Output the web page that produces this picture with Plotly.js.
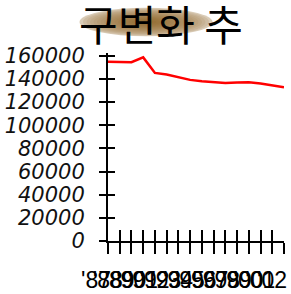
<!DOCTYPE html>
<html><head><meta charset="utf-8">
<script src="https://cdn.plot.ly/plotly-3.0.1.min.js"></script>
<style>html,body{margin:0;padding:0;background:#fff;}#chart{width:291px;height:294px;}</style>
</head><body><div id="chart"></div>
<script>
const years = ["'87","'88","'89","'90","'91","'92","'93","'94","'95","'96","'97","'98","'99","'00","'01","'02"];
const values = [154800,154700,154300,158500,145100,143700,141500,139100,137900,137200,136500,136800,137000,136000,134300,132700];
const yTicks = [0,20000,40000,60000,80000,100000,120000,140000,160000];
const titleText = "구변화 추";

const W = 291, H = 294, L = 108, R = 7, T = 53, B = 53;
const pw = W - L - R, ph = H - T - B;
function px2paperX(p){return (p - L)/pw;}
function px2paperY(p){return (H - B - p)/ph;}

// radial brown blob behind title
const shapes = [];
const N = 20, cx = 146, cy = 22, rx = 70, ry = 15;
for (let i = 0; i < N; i++) {
  const f = 1 - i / N;
  const t = Math.pow(i / (N - 1), 0.35);
  const r = Math.round(255 + (148 - 255) * t);
  const g = Math.round(255 + (108 - 255) * t);
  const b = Math.round(255 + (50 - 255) * t);
  shapes.push({type:'circle', xref:'paper', yref:'paper', layer:'above',
    x0: px2paperX(cx - rx*f), x1: px2paperX(cx + rx*f),
    y0: px2paperY(cy + ry*f), y1: px2paperY(cy - ry*f),
    fillcolor:`rgb(${r},${g},${b})`, line:{width:0}});
}

const yMax = 162300;
const traces = [
  {x: years, y: values, type:'scatter', mode:'lines', line:{color:'#ff0000', width:2.5}, hoverinfo:'skip', cliponaxis:false},
  {x: years, y: values, xaxis:'x2', yaxis:'y2', type:'scatter', mode:'lines', line:{color:'rgba(0,0,0,0)', width:0}, hoverinfo:'skip', showlegend:false}
];
const layout = {
  width: W, height: H, showlegend:false,
  margin:{l:L, r:R, t:T, b:B, pad:0},
  paper_bgcolor:'#fff', plot_bgcolor:'#fff',
  title:{text:titleText, font:{family:'Noto Sans CJK KR', size:42, color:'#000'}, x:161/W, xanchor:'center', xref:'container', y:1 - 26/H, yref:'container', yanchor:'middle'},
  xaxis:{type:'category', categoryarray:years, range:[0, years.length-1], showgrid:false, zeroline:false,
    showline:true, linecolor:'#000', linewidth:2, ticks:'outside', ticklen:11, tickwidth:2, tickcolor:'#000',
    tickmode:'array', tickvals:years, ticktext:years, tickangle:0,
    tickfont:{family:'Liberation Sans', size:23, color:'#000'}, ticklabelshift:-12, ticklabelstandoff:6},
  xaxis2:{type:'category', categoryarray:years, range:[0, years.length-1], overlaying:'x', anchor:'y', side:'bottom',
    showgrid:false, zeroline:false, showline:false, ticks:'inside', ticklen:11, tickwidth:2, tickcolor:'#000', showticklabels:false,
    tickmode:'array', tickvals:years},
  yaxis:{range:[0, yMax], showgrid:false, zeroline:false, showline:true, linecolor:'#000', linewidth:2,
    ticks:'outside', ticklen:7, tickwidth:2, tickcolor:'#000', tickmode:'array', tickvals:yTicks, ticktext:yTicks.map(v => '<i>' + v + '</i>'),
    tickfont:{family:'DejaVu Sans', size:21, color:'#111'}, ticklabelstandoff:10},
  yaxis2:{range:[0, yMax], overlaying:'y', anchor:'x', side:'left', showgrid:false, zeroline:false, showline:false,
    ticks:'inside', ticklen:7, tickwidth:2, tickcolor:'#000', showticklabels:false, tickmode:'array', tickvals:yTicks},
  shapes: shapes
};
Plotly.newPlot('chart', traces, layout, {staticPlot:true, displayModeBar:false});
</script></body></html>
